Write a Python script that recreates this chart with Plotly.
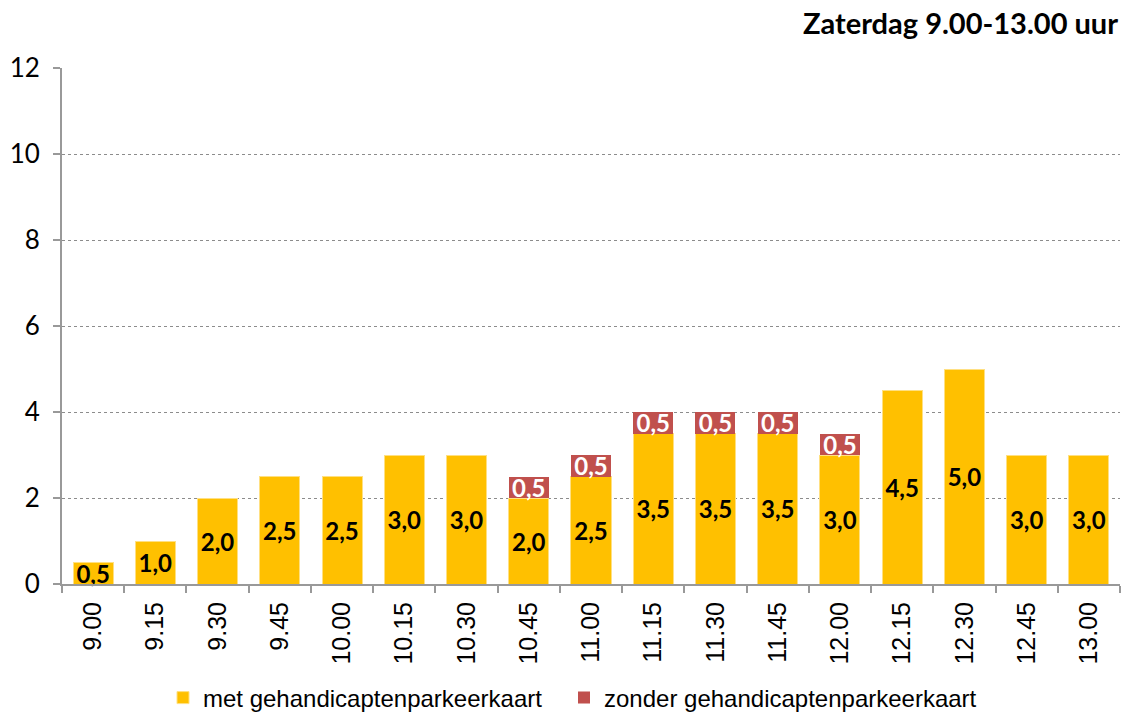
import plotly.graph_objects as go

categories = ["9.00", "9.15", "9.30", "9.45", "10.00", "10.15", "10.30", "10.45", "11.00",
              "11.15", "11.30", "11.45", "12.00", "12.15", "12.30", "12.45", "13.00"]
met = [0.5, 1.0, 2.0, 2.5, 2.5, 3.0, 3.0, 2.0, 2.5, 3.5, 3.5, 3.5, 3.0, 4.5, 5.0, 3.0, 3.0]
zonder = [None, None, None, None, None, None, None, 0.5, 0.5, 0.5, 0.5, 0.5, 0.5, None, None, None, None]
y_ticks = [0, 2, 4, 6, 8, 10, 12]

YELLOW = "#FFC000"
RED = "#C0504D"

fig = go.Figure()
fig.add_trace(go.Bar(
    x=categories, y=met, name="met gehandicaptenparkeerkaart", legend="legend",
    marker=dict(color=YELLOW, line=dict(width=1, color="#FFE082")),
    texttemplate="%{y:.1f}", textposition="inside", insidetextanchor="middle",
    textangle=0, textfont=dict(family="Lato", size=24, color="black", weight="bold"),
    cliponaxis=False,
))
fig.add_trace(go.Bar(
    x=categories, y=zonder, name="zonder gehandicaptenparkeerkaart", legend="legend2",
    marker=dict(color=RED, line=dict(width=0)),
    texttemplate="%{y:.1f}", textposition="inside", insidetextanchor="middle",
    textangle=0, textfont=dict(family="Lato", size=24, color="white", weight="bold"),
    cliponaxis=False,
))

legend_common = dict(orientation="h", yref="container", y=(717 - 698) / 717, yanchor="middle",
                     xref="container", xanchor="left",
                     font=dict(family="Liberation Sans", size=24, color="black"),
                     itemwidth=30)

fig.update_layout(
    barmode="stack",
    bargap=0.357,
    separators=",.",
    width=1129, height=717,
    margin=dict(l=62, r=9, t=68, b=133, autoexpand=False),
    plot_bgcolor="white", paper_bgcolor="white",
    uniformtext=dict(minsize=24, mode="show"),
    showlegend=True,
    legend=dict(x=163 / 1129, **legend_common),
    legend2=dict(x=564 / 1129, **legend_common),
    annotations=[dict(text="<b>Zaterdag 9.00-13.00 uur</b>", xref="paper", yref="paper",
                      x=1.0, y=1.0, xanchor="right", yanchor="middle", yshift=46,
                      showarrow=False, font=dict(family="Lato", size=29, color="black"))],
)
fig.update_yaxes(
    range=[0, 12], tickvals=y_ticks, showgrid=True, gridcolor="#8c8c8c", griddash="dot",
    gridwidth=1, showline=True, linecolor="#999999", linewidth=2, ticks="outside",
    ticklen=7, tickcolor="#999999", tickwidth=2, ticklabelstandoff=8,
    tickfont=dict(family="Lato", size=26, color="black"), zeroline=False,
)
fig.update_xaxes(
    tickangle=-90, showline=True, linecolor="#999999", linewidth=2, ticks="outside",
    tickson="boundaries", ticklen=7, tickcolor="#999999", tickwidth=2, ticklabelstandoff=6,
    tickfont=dict(family="Liberation Sans", size=25, color="black"),
)

fig.write_html("out.html", config={"displayModeBar": False})
with open("out.html", encoding="utf-8") as f:
    html = f.read()
html = html.replace("<body>", '<body style="margin:0;padding:0;overflow:hidden">', 1)
with open("out.html", "w", encoding="utf-8") as f:
    f.write(html)
